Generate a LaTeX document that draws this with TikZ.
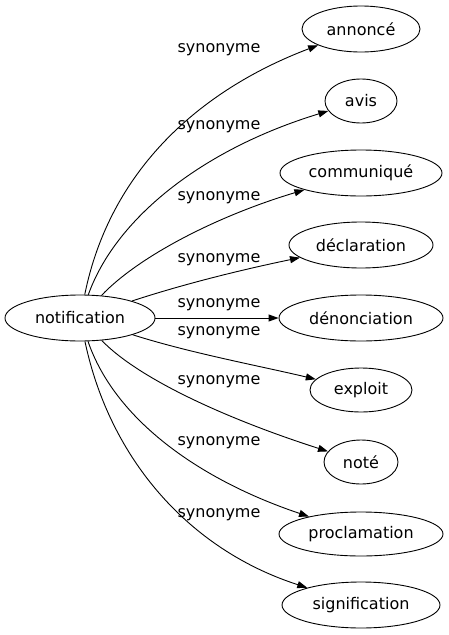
\documentclass[tikz,border=0pt]{standalone}
\usepackage{fontspec}
\setmainfont{DejaVu Sans}
\usetikzlibrary{arrows.meta,shapes.geometric}
\begin{document}
\begin{tikzpicture}[x=1pt,y=-1pt,
  every node/.style={font=\fontsize{16}{18}\selectfont},
  word/.style={ellipse,draw,line width=0.9pt,inner sep=0pt,minimum height=46pt},
  lab/.style={inner sep=0pt},
  edge/.style={line width=0.9pt,-{Triangle[length=10pt,width=7pt]}}]
\useasboundingbox (0,0) rectangle (449,635);
\node[word,minimum width=150pt] (n) at (80,318) {notification};
\node[word,minimum width=118pt] (a1) at (361,29) {annoncé};
\node[word,minimum width=72pt,minimum height=44pt] (a2) at (361,101) {avis};
\node[word,minimum width=162pt] (a3) at (361,173) {communiqué};
\node[word,minimum width=144pt] (a4) at (361,245) {déclaration};
\node[word,minimum width=164pt] (a5) at (361,318) {dénonciation};
\node[word,minimum width=102pt,minimum height=44pt] (a6) at (361,390) {exploit};
\node[word,minimum width=74pt,minimum height=44pt] (a7) at (361,462) {noté};
\node[word,minimum width=164pt,minimum height=44pt] (a8) at (361,534) {proclamation};
\node[word,minimum width=158pt] (a9) at (361,605) {signification};
\draw[edge] (n) .. controls (110,170) and (200,90) .. (a1);
\draw[edge] (n) .. controls (115,220) and (200,150) .. (a2);
\draw[edge] (n) .. controls (140,255) and (220,215) .. (a3);
\draw[edge] (n) .. controls (190,282) and (250,268) .. (a4);
\draw[edge] (n) -- (a5);
\draw[edge] (n) .. controls (190,353) and (260,366) .. (a6);
\draw[edge] (n) .. controls (140,380) and (230,420) .. (a7);
\draw[edge] (n) .. controls (115,420) and (200,480) .. (a8);
\draw[edge] (n) .. controls (110,460) and (190,550) .. (a9);
\node[lab] (l1) at (219,50) {synonyme};
\node[lab] (l2) at (219,127) {synonyme};
\node[lab] (l3) at (219,198) {synonyme};
\node[lab] (l4) at (219,260) {synonyme};
\node[lab] (l5) at (219,305) {synonyme};
\node[lab] (l6) at (219,333) {synonyme};
\node[lab] (l7) at (219,382) {synonyme};
\node[lab] (l8) at (219,443) {synonyme};
\node[lab] (l9) at (219,515) {synonyme};
\end{tikzpicture}
\end{document}
